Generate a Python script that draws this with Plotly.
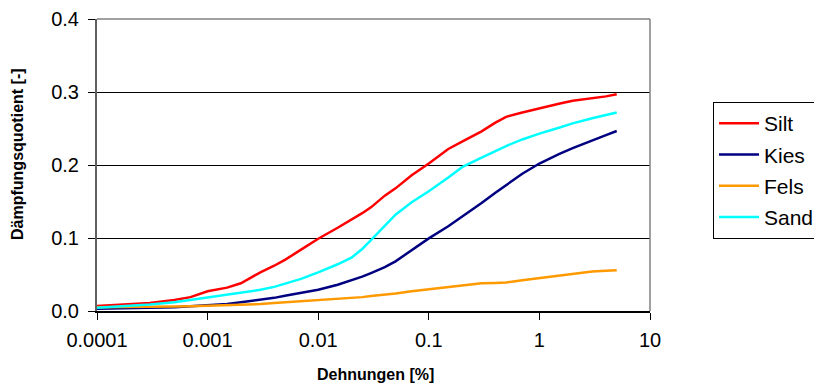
import plotly.graph_objects as go

# strain [%]
dehnung = [0.0001, 0.0002, 0.0003, 0.0005, 0.0007, 0.001, 0.0015, 0.002, 0.003,
           0.004, 0.005, 0.007, 0.01, 0.015, 0.02, 0.025, 0.03, 0.04, 0.05, 0.07,
           0.1, 0.15, 0.2, 0.3, 0.4, 0.5, 0.7, 1, 1.5, 2, 3, 4, 5]

# damping ratio per soil type
silt = [0.007, 0.009, 0.011, 0.015, 0.019, 0.027, 0.032, 0.038, 0.053,
        0.062, 0.070, 0.084, 0.099, 0.114, 0.125, 0.134, 0.142, 0.158, 0.168, 0.186,
        0.202, 0.222, 0.232, 0.246, 0.258, 0.266, 0.272, 0.278, 0.284, 0.288, 0.291, 0.294, 0.297]
kies = [0.003, 0.0035, 0.004, 0.005, 0.0065, 0.0075, 0.0095, 0.012, 0.0155,
        0.018, 0.021, 0.025, 0.029, 0.036, 0.042, 0.047, 0.052, 0.060, 0.068, 0.083,
        0.0995, 0.116, 0.129, 0.148, 0.162, 0.172, 0.188, 0.202, 0.215, 0.223, 0.234, 0.241, 0.2466]
fels = [0.005, 0.005, 0.0055, 0.006, 0.0065, 0.007, 0.0075, 0.008, 0.0095,
        0.011, 0.012, 0.013, 0.0148, 0.016, 0.0174, 0.019, 0.0205, 0.022, 0.024, 0.027,
        0.0297, 0.033, 0.0356, 0.038, 0.0385, 0.039, 0.042, 0.0448, 0.048, 0.0507, 0.054, 0.055, 0.0557]
sand = [0.0045, 0.007, 0.009, 0.012, 0.015, 0.019, 0.022, 0.025, 0.029,
        0.033, 0.037, 0.044, 0.053, 0.064, 0.073, 0.085, 0.097, 0.117, 0.132, 0.149,
        0.164, 0.183, 0.197, 0.210, 0.219, 0.226, 0.235, 0.243, 0.251, 0.257, 0.264, 0.268, 0.272]

series = [("Silt", silt, "#FF0000"), ("Kies", kies, "#000080"),
          ("Fels", fels, "#FF9900"), ("Sand", sand, "#00FFFF")]

x_ticks = [0.0001, 0.001, 0.01, 0.1, 1, 10]
x_labels = ["0.0001", "0.001", "0.01", "0.1", "1", "10"]
y_ticks = [0.0, 0.1, 0.2, 0.3, 0.4]

FONT = "Liberation Sans, Arial, sans-serif"
W, H = 814, 385

fig = go.Figure()
for name, vals, col in series:
    fig.add_trace(go.Scatter(x=dehnung, y=vals, name=name, mode="lines",
                             legendgroup=name,
                             line=dict(color=col, width=2.5)))

fig.update_layout(
    width=W, height=H,
    margin=dict(l=97, r=164, t=19, b=74),
    paper_bgcolor="white", plot_bgcolor="white",
    font=dict(family=FONT, size=20, color="black"),
    showlegend=True,
    # legend placed in container coordinates so it does not shrink the plot area
    legend=dict(xref="container", yref="container",
                x=713 / W, y=1 - 102 / H, xanchor="left", yanchor="top",
                bgcolor="white", bordercolor="black", borderwidth=1,
                font=dict(family=FONT, size=21, color="black"),
                traceorder="grouped", tracegroupgap=1, itemwidth=40),
    xaxis=dict(type="log", range=[-4, 1], tickvals=x_ticks, ticktext=x_labels,
               showgrid=False, zeroline=False, automargin=False,
               showline=True, linecolor="black", linewidth=1.5,
               ticks="outside", ticklen=7, tickcolor="black",
               ticklabelstandoff=3,
               tickfont=dict(family=FONT, size=20)),
    yaxis=dict(range=[0, 0.4], tickvals=y_ticks, tickformat=".1f",
               showgrid=True, gridcolor="black", gridwidth=1, zeroline=False,
               automargin=False,
               showline=True, linecolor="#606060", linewidth=2,
               ticks="outside", ticklen=7, tickcolor="black",
               ticklabelstandoff=5,
               tickfont=dict(family=FONT, size=20)),
)

# axis titles
fig.add_annotation(text="<b>Dehnungen [%]</b>", xref="paper", yref="paper",
                   x=0.5045, y=-0.219, xanchor="center", yanchor="middle",
                   showarrow=False, font=dict(family=FONT, size=16))
fig.add_annotation(text="<b>Dämpfungsquotient [-]</b>", xref="paper", yref="paper",
                   x=-0.1429, y=0.5377, xanchor="center", yanchor="middle",
                   textangle=-90, showarrow=False, font=dict(family=FONT, size=16))

# plot frame: grey top and right border
fig.add_shape(type="line", xref="paper", yref="paper", x0=0, x1=1, y0=1, y1=1,
              line=dict(color="#808080", width=1.5), layer="above")
fig.add_shape(type="line", xref="paper", yref="paper", x0=1, x1=1, y0=0, y1=1,
              line=dict(color="#808080", width=1.5), layer="above")

fig.write_html("out.html")
